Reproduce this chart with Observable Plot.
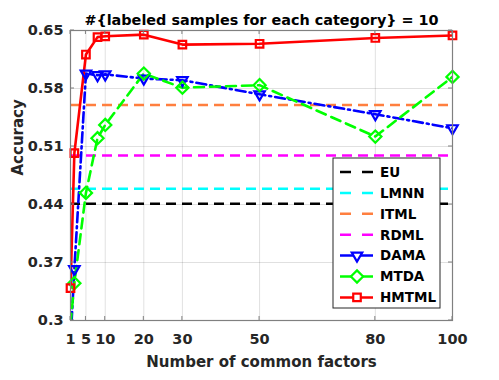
<!DOCTYPE html>
<html><head><meta charset="utf-8">
<script src="https://cdn.jsdelivr.net/npm/d3@7"></script>
<script src="https://cdn.jsdelivr.net/npm/@observablehq/plot@0.6"></script>
<style>
body{margin:0;background:#fff;}
#chart{width:499px;height:380px;}
</style></head><body><div id="chart"></div>
<script>
const factors = [1, 2, 5, 8, 10, 20, 30, 50, 80, 100];
const hmtml = [0.339, 0.502, 0.621, 0.642, 0.643, 0.645, 0.633, 0.634, 0.641, 0.644];
const dama  = [0.274, 0.362, 0.598, 0.596, 0.597, 0.592, 0.590, 0.573, 0.549, 0.532];
const mtda  = [0.296, 0.345, 0.454, 0.520, 0.536, 0.598, 0.581, 0.584, 0.522, 0.594];
const baselineNames  = ["EU", "LMNN", "ITML", "RDML"];
const baselineValues = [0.441, 0.459, 0.560, 0.499];
const xTicks = [1, 5, 10, 20, 30, 50, 80, 100];
const yTicks = [0.3, 0.37, 0.44, 0.51, 0.58, 0.65];
const titleText = "#{labeled samples for each category} = 10";
const xLabel = "Number of common factors";
const yLabel = "Accuracy";

const colors = {EU:"#000000", LMNN:"#00ffff", ITML:"#ff7f3f", RDML:"#ff00ff", DAMA:"#0000ff", MTDA:"#00ff00", HMTML:"#ff0000"};
const dash = {EU:"10,6", LMNN:"10,6", ITML:"10,6", RDML:"10,6", DAMA:"10,4,2,4", MTDA:"10,6", HMTML:null};
const symbols = {DAMA:"triangle2", MTDA:"diamond2", HMTML:"square2"};
const rot = {DAMA:180, MTDA:0, HMTML:0};
const rad = {DAMA:5, MTDA:5.5, HMTML:4.8};

const yMin = yTicks[0], yMax = yTicks[yTicks.length-1];
const xMin = xTicks[0], xMax = xTicks[xTicks.length-1];

const baselines = baselineNames.map((n,i)=>({name:n, value:baselineValues[i], x1:xMin, x2:xMax}));
const seriesDefs = [["DAMA", dama], ["MTDA", mtda], ["HMTML", hmtml]];
const rows = seriesDefs.flatMap(([name, vals]) => factors.map((f,i)=>({name, x:f, y:vals[i]})));

const font = "'DejaVu Sans', Verdana, sans-serif";
const marks = [
  Plot.gridX(xTicks, {stroke:"#000", strokeOpacity:0.12, strokeWidth:1}),
  Plot.gridY(yTicks, {stroke:"#000", strokeOpacity:0.12, strokeWidth:1}),
  Plot.axisX(xTicks, {tickSize:0, tickPadding:13, fontSize:14.5, fontWeight:"bold", fill:"#262626", label:null, tickFormat:d=>String(d)}),
  Plot.axisY(yTicks, {tickSize:0, tickPadding:7, fontSize:14.5, fontWeight:"bold", fill:"#262626", label:null, tickFormat:d=>String(d)}),
  ...baselines.map(b => Plot.ruleY([b], {y:"value", x1:"x1", x2:"x2", stroke:colors[b.name], strokeWidth:2.5, strokeDasharray:dash[b.name]})),
  ...seriesDefs.map(([name]) => Plot.line(rows.filter(r=>r.name===name), {x:"x", y:"y", stroke:colors[name], strokeWidth:2.6, strokeDasharray:dash[name], clip:true})),
  ...seriesDefs.map(([name]) => Plot.dot(rows.filter(r=>r.name===name && r.y>=yMin), {x:"x", y:"y", symbol:symbols[name], r:rad[name], rotate:rot[name], stroke:colors[name], strokeWidth:2.2, fill:"none"})),
  Plot.frame({stroke:"#808080", strokeWidth:1.2}),
  Plot.text([titleText], {frameAnchor:"top", dy:-16, fontSize:14.4, fontWeight:"bold", fill:"#000"}),
  Plot.text([xLabel], {frameAnchor:"bottom", dy:46, fontSize:15, fontWeight:"bold", fill:"#262626"}),
  Plot.text([yLabel], {frameAnchor:"left", dx:-52, rotate:-90, fontSize:15, fontWeight:"bold", fill:"#262626"})
];

const chart = Plot.plot({
  width:499, height:380,
  marginLeft:70, marginRight:47, marginTop:30, marginBottom:60,
  style:{fontFamily:font, background:"#fff"},
  x:{type:"linear", domain:[xMin, xMax]},
  y:{type:"linear", domain:[yMin, yMax]},
  marks
});
document.getElementById("chart").appendChild(chart);

// inward ticks on all four sides, using the plot's scales
const sx = chart.scale("x"), sy = chart.scale("y");
const svg = d3.select(chart);
const L = sx.apply(xMin), R = sx.apply(xMax), T = sy.apply(yMax), B = sy.apply(yMin);
const tg = svg.append("g").attr("stroke","#808080").attr("stroke-width",1);
xTicks.forEach(t=>{const x=sx.apply(t);
  tg.append("line").attr("x1",x).attr("x2",x).attr("y1",B).attr("y2",B-4);
  tg.append("line").attr("x1",x).attr("x2",x).attr("y1",T).attr("y2",T+4);});
yTicks.forEach(t=>{const y=sy.apply(t);
  tg.append("line").attr("y1",y).attr("y2",y).attr("x1",L).attr("x2",L+4);
  tg.append("line").attr("y1",y).attr("y2",y).attr("x1",R).attr("x2",R-4);});

// legend
const legendNames = baselineNames.concat(seriesDefs.map(d=>d[0]));
const lx = 333, ly = 158, lw = 107, rowH = 20.9;
const lg = svg.append("g").attr("text-anchor","start");
lg.append("rect").attr("x",lx).attr("y",ly).attr("width",lw).attr("height",150).attr("fill","#fff").attr("stroke","#262626").attr("stroke-width",1);
legendNames.forEach((n,i)=>{
  const y = ly + 14 + i*rowH;
  lg.append("line").attr("x1",lx+7).attr("x2",lx+40).attr("y1",y).attr("y2",y)
    .attr("stroke",colors[n]).attr("stroke-width",2.5).attr("stroke-dasharray", symbols[n] ? null : "11,11");
  if (symbols[n]) {
    const sym = d3.symbol().type({triangle2:d3.symbolTriangle2, diamond2:d3.symbolDiamond2, square2:d3.symbolSquare2}[symbols[n]]).size(Math.PI*rad[n]*rad[n]);
    lg.append("path").attr("d",sym()).attr("transform",`translate(${lx+24},${y}) rotate(${rot[n]})`)
      .attr("fill","#fff").attr("stroke",colors[n]).attr("stroke-width",2.2);
  }
  lg.append("text").attr("x",lx+47).attr("y",y).attr("dy","0.36em")
    .style("font-size","13.5px").style("font-weight","bold").style("font-family",font)
    .attr("fill","#000").text(n);
});
</script></body></html>
